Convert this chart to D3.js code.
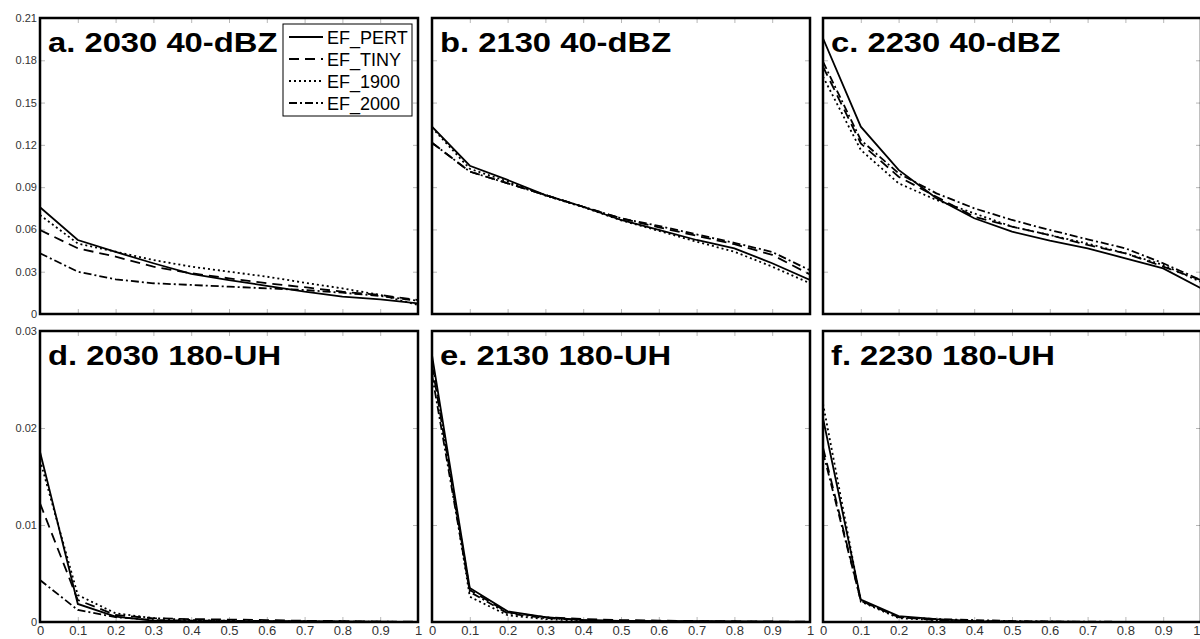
<!DOCTYPE html>
<html>
<head>
<meta charset="utf-8">
<script src="https://cdn.jsdelivr.net/npm/d3@7"></script>
<style>
  html, body { margin: 0; padding: 0; background: #fff; }
  svg { display: block; font-family: "Liberation Sans", Arial, Helvetica, sans-serif; }
</style>
</head>
<body>
<svg id="chart" width="1200" height="639"></svg>
<script>
// Fraction thresholds along the x axis
const fractions = [0, 0.1, 0.2, 0.3, 0.4, 0.5, 0.6, 0.7, 0.8, 0.9, 1.0];

// Ensemble configurations (legend order)
const seriesNames = ["EF_PERT", "EF_TINY", "EF_1900", "EF_2000"];
const dashPatterns = [null, "10,6", "2,3", "8,3,2,3"];

// Panel titles
const panelTitles = [
  "a. 2030 40-dBZ", "b. 2130 40-dBZ", "c. 2230 40-dBZ",
  "d. 2030 180-UH", "e. 2130 180-UH", "f. 2230 180-UH"
];

// Tick values
const xTickValues = [0, 0.1, 0.2, 0.3, 0.4, 0.5, 0.6, 0.7, 0.8, 0.9, 1];
const xTickLabels = ["0", "0.1", "0.2", "0.3", "0.4", "0.5", "0.6", "0.7", "0.8", "0.9", "1"];
const dbzTicks = [0, 0.03, 0.06, 0.09, 0.12, 0.15, 0.18, 0.21];
const dbzTickLabels = ["0", "0.03", "0.06", "0.09", "0.12", "0.15", "0.18", "0.21"];
const uhTicks = [0, 0.01, 0.02, 0.03];
const uhTickLabels = ["0", "0.01", "0.02", "0.03"];

// 40-dBZ reflectivity, one row per configuration (PERT, TINY, 1900, 2000)
const dbz2030 = [
  [0.0757, 0.0525, 0.0440, 0.0360, 0.0284, 0.0240, 0.0200, 0.0158, 0.0123, 0.0104, 0.0076],
  [0.0596, 0.0466, 0.0407, 0.0336, 0.0289, 0.0253, 0.0218, 0.0190, 0.0158, 0.0135, 0.0099],
  [0.0702, 0.0500, 0.0442, 0.0383, 0.0336, 0.0300, 0.0265, 0.0222, 0.0182, 0.0135, 0.0064],
  [0.0431, 0.0300, 0.0246, 0.0218, 0.0206, 0.0194, 0.0182, 0.0170, 0.0151, 0.0128, 0.0094]
];
const dbz2130 = [
  [0.1329, 0.1052, 0.0951, 0.0844, 0.0761, 0.0667, 0.0596, 0.0525, 0.0466, 0.0360, 0.0241],
  [0.1215, 0.1010, 0.0927, 0.0844, 0.0761, 0.0679, 0.0615, 0.0555, 0.0495, 0.0420, 0.0280],
  [0.1322, 0.1030, 0.0940, 0.0840, 0.0758, 0.0665, 0.0590, 0.0513, 0.0442, 0.0336, 0.0218],
  [0.1215, 0.1010, 0.0927, 0.0844, 0.0761, 0.0679, 0.0625, 0.0565, 0.0505, 0.0440, 0.0310]
];
const dbz2230 = [
  [0.1956, 0.1329, 0.1022, 0.0821, 0.0679, 0.0584, 0.0520, 0.0466, 0.0395, 0.0324, 0.0182],
  [0.1755, 0.1210, 0.0974, 0.0832, 0.0690, 0.0620, 0.0560, 0.0490, 0.0431, 0.0336, 0.0240],
  [0.1684, 0.1164, 0.0927, 0.0809, 0.0714, 0.0620, 0.0560, 0.0500, 0.0431, 0.0348, 0.0227],
  [0.1790, 0.1234, 0.0998, 0.0856, 0.0750, 0.0667, 0.0596, 0.0530, 0.0466, 0.0360, 0.0241]
];

// 180 m2/s2 updraft helicity
const uh2030 = [
  [0.01756, 0.00186, 0.00055, 0.00014, 0.00010, 0.00008, 0.00006, 0.00004, 0.00003, 0.00002, 0.00001],
  [0.01224, 0.00227, 0.00072, 0.00038, 0.00030, 0.00025, 0.00020, 0.00012, 0.00010, 0.00005, 0.00002],
  [0.01670, 0.00278, 0.00090, 0.00040, 0.00020, 0.00012, 0.00008, 0.00005, 0.00003, 0.00002, 0.00001],
  [0.00433, 0.00124, 0.00050, 0.00020, 0.00015, 0.00012, 0.00010, 0.00008, 0.00005, 0.00003, 0.00001]
];
const uh2130 = [
  [0.0275, 0.00350, 0.00110, 0.00050, 0.00020, 0.00012, 0.00010, 0.00008, 0.00005, 0.00003, 0.00001],
  [0.0265, 0.00330, 0.00100, 0.00050, 0.00030, 0.00020, 0.00015, 0.00010, 0.00008, 0.00005, 0.00002],
  [0.0270, 0.00260, 0.00070, 0.00030, 0.00010, 0.00005, 0.00004, 0.00003, 0.00002, 0.00001, 0.00001],
  [0.0255, 0.00310, 0.00090, 0.00040, 0.00020, 0.00010, 0.00008, 0.00006, 0.00004, 0.00002, 0.00001]
];
const uh2230 = [
  [0.0210, 0.00230, 0.00060, 0.00030, 0.00010, 0.00005, 0.00003, 0.00002, 0.00001, 0.00000, 0.00000],
  [0.0180, 0.00220, 0.00050, 0.00020, 0.00010, 0.00005, 0.00003, 0.00002, 0.00001, 0.00000, 0.00000],
  [0.0225, 0.00210, 0.00040, 0.00020, 0.00008, 0.00004, 0.00002, 0.00001, 0.00001, 0.00000, 0.00000],
  [0.0175, 0.00220, 0.00050, 0.00030, 0.00020, 0.00010, 0.00005, 0.00003, 0.00002, 0.00001, 0.00000]
];

const panelData = [dbz2030, dbz2130, dbz2230, uh2030, uh2130, uh2230];

// Layout
const colLefts = [40, 432, 823];
const rowTops = [18, 331];
const panelW = 378;
const rowHeights = [296, 291];
const svgW = 1200;

const svg = d3.select("#chart");

svg.append("defs").selectAll("clipPath")
  .data(d3.range(6))
  .join("clipPath")
  .attr("id", i => "clip" + i)
  .append("rect")
  .attr("x", 0).attr("y", 0)
  .attr("width", panelW)
  .attr("height", i => rowHeights[Math.floor(i / 3)]);

panelData.forEach((rows, i) => {
  const col = i % 3, row = Math.floor(i / 3);
  const h = rowHeights[row];
  const g = svg.append("g").attr("transform", `translate(${colLefts[col]},${rowTops[row]})`);

  const x = d3.scaleLinear().domain([0, 1]).range([0, panelW]);
  const yMax = row === 0 ? 0.21 : 0.03;
  const y = d3.scaleLinear().domain([0, yMax]).range([h, 0]);
  const yTicks = row === 0 ? dbzTicks : uhTicks;
  const yLabels = row === 0 ? dbzTickLabels : uhTickLabels;

  // inward ticks on all four sides
  const left = g.append("g").call(
    d3.axisLeft(y).tickValues(yTicks).tickSize(-5).tickPadding(3)
      .tickFormat((d, k) => col === 0 ? yLabels[k] : ""));
  const right = g.append("g").attr("transform", `translate(${panelW},0)`)
    .call(d3.axisRight(y).tickValues(yTicks).tickSize(-5).tickFormat(""));
  const bottom = g.append("g").attr("transform", `translate(0,${h})`).call(
    d3.axisBottom(x).tickValues(xTickValues).tickSize(-5).tickPadding(4)
      .tickFormat((d, k) => row === 1 ? xTickLabels[k] : ""));
  const top = g.append("g")
    .call(d3.axisTop(x).tickValues(xTickValues).tickSize(-5).tickFormat(""));

  [left, right, bottom, top].forEach(a => {
    a.select(".domain").remove();
    a.selectAll(".tick line").attr("stroke", "#b8b8b8").attr("stroke-width", 1);
    a.selectAll(".tick text").attr("fill", "#333").attr("font-family", "Liberation Sans, Arial, sans-serif");
  });
  left.selectAll(".tick text").attr("font-size", 11);
  bottom.selectAll(".tick text").attr("font-size", 13);

  // keep a label that would run past the right edge inside the page
  bottom.selectAll(".tick text")
    .filter(d => colLefts[col] + x(d) + 4 > svgW)
    .attr("text-anchor", "end")
    .attr("dx", svgW - colLefts[col] - panelW);

  // curves
  const line = d3.line().x((d, k) => x(fractions[k])).y(d => y(d));
  g.append("g").attr("clip-path", `url(#clip${i})`)
    .selectAll("path")
    .data(rows)
    .join("path")
    .attr("d", d => line(d))
    .attr("fill", "none")
    .attr("stroke", "#000")
    .attr("stroke-width", 1.8)
    .attr("stroke-dasharray", (d, k) => dashPatterns[k]);

  // frame
  g.append("rect")
    .attr("width", panelW).attr("height", h)
    .attr("fill", "none").attr("stroke", "#000").attr("stroke-width", 2.5);

  // title
  g.append("text")
    .attr("transform", "translate(8,34) scale(1.17,1)")
    .attr("font-size", 28)
    .attr("font-weight", "bold")
    .attr("fill", "#000")
    .text(panelTitles[i]);

  // legend in first panel
  if (i === 0) {
    const lg = g.append("g").attr("transform", "translate(243,6)");
    lg.append("rect").attr("width", 129).attr("height", 92)
      .attr("fill", "#fff").attr("stroke", "#000").attr("stroke-width", 1);
    seriesNames.forEach((name, k) => {
      const yy = 13 + k * 22;
      lg.append("line").attr("x1", 6).attr("x2", 40).attr("y1", yy).attr("y2", yy)
        .attr("stroke", "#000").attr("stroke-width", 1.8)
        .attr("stroke-dasharray", dashPatterns[k]);
      lg.append("text").attr("x", 44).attr("y", yy + 6.5)
        .attr("font-size", 18).attr("fill", "#000").text(name);
    });
  }
});
</script>
</body>
</html>
